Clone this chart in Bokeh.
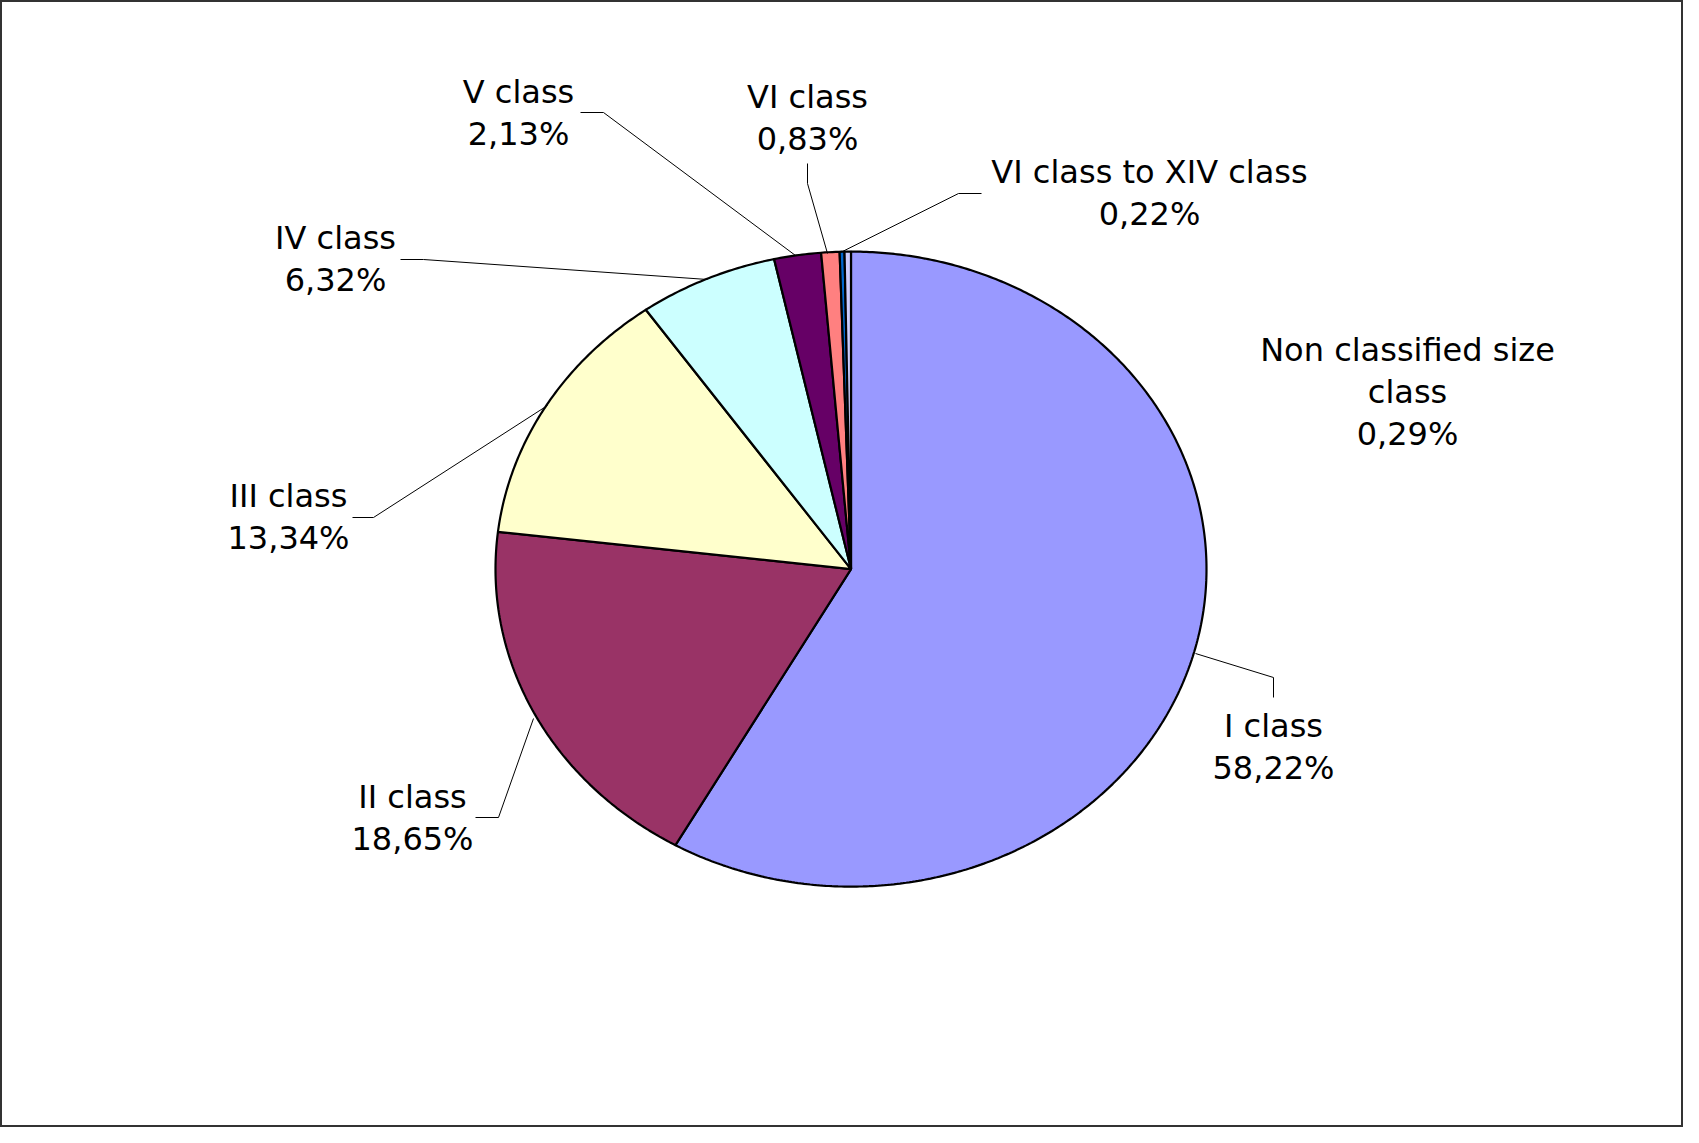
import numpy as np
from bokeh.plotting import figure
from bokeh.models import Range1d, ColumnDataSource
from bokeh.core.properties import value
from bokeh.embed import file_html
from bokeh.resources import INLINE

# ---- data ----
categories = ["I class", "II class", "III class", "IV class", "V class",
              "VI class", "VI class to XIV class", "Non classified size class"]
shares = [58.22, 18.65, 13.34, 6.32, 2.13, 0.83, 0.22, 0.29]
colors = ["#9999FF", "#993366", "#FFFFCC", "#CCFFFF", "#660066",
          "#FF8080", "#0066CC", "#CCCCFF"]
label_lines = [["I class"], ["II class"], ["III class"], ["IV class"], ["V class"],
               ["VI class"], ["VI class to XIV class"], ["Non classified size", "class"]]

# ---- layout (pixel coordinates) ----
W, H = 1683, 1127
CX, CY, RX, RY = 850.5, 568.6, 355.5, 317.5
label_pos = [(1273, 725), (412, 796), (288, 495), (335, 237), (518, 91),
             (807, 96), (1149, 171), (1407, 349)]
LINE_H = 42
leaders = [
    [(1195, 653), (1273, 677), (1273, 697)],
    [(533, 718), (498, 817), (475, 817)],
    [(547, 405), (373, 517), (352, 517)],
    [(707, 279), (423, 259), (400, 259)],
    [(795, 255), (603, 112), (580, 112)],
    [(827, 253), (807, 183), (807, 163)],
    [(840, 252), (958, 193), (981, 193)],
]

p = figure(width=W, height=H, output_backend="svg", toolbar_location=None,
           x_range=Range1d(0, W), y_range=Range1d(H, 0),
           min_border=0)
p.axis.visible = False
p.grid.visible = False
p.outline_line_color = "#333333"
p.outline_line_width = 3
p.background_fill_color = "white"
p.border_fill_color = "white"

# slices
vals = np.array(shares, dtype=float)
frac = vals / vals.sum()
ends = np.cumsum(frac) * 2 * np.pi
starts = ends - frac * 2 * np.pi
xs, ys = [], []
for a0, a1 in zip(starts, ends):
    n = max(4, int(np.ceil((a1 - a0) / (2 * np.pi) * 720)))
    t = np.linspace(a0, a1, n)
    xs.append(np.concatenate([[CX], CX + RX * np.sin(t)]).tolist())
    ys.append(np.concatenate([[CY], CY - RY * np.cos(t)]).tolist())
src = ColumnDataSource(dict(xs=xs, ys=ys, color=colors, name=categories))
p.patches("xs", "ys", source=src, fill_color="color", line_color="black",
          line_width=2.2)

# leader lines
p.multi_line([[pt[0] for pt in l] for l in leaders],
             [[pt[1] for pt in l] for l in leaders],
             line_color="black", line_width=1)

# labels
tx, ty, tt = [], [], []
for lines, (x, y), v in zip(label_lines, label_pos, shares):
    all_lines = lines + [f"{v:.2f}".replace(".", ",") + "%"]
    for i, s in enumerate(all_lines):
        tx.append(x)
        ty.append(y + i * LINE_H)
        tt.append(s)
p.text(tx, ty, text=tt, text_align="center", text_baseline="middle",
       text_font=value("DejaVu Sans"), text_font_size="32px",
       text_color="black")

open("out.html", "w").write(file_html(p, INLINE))
